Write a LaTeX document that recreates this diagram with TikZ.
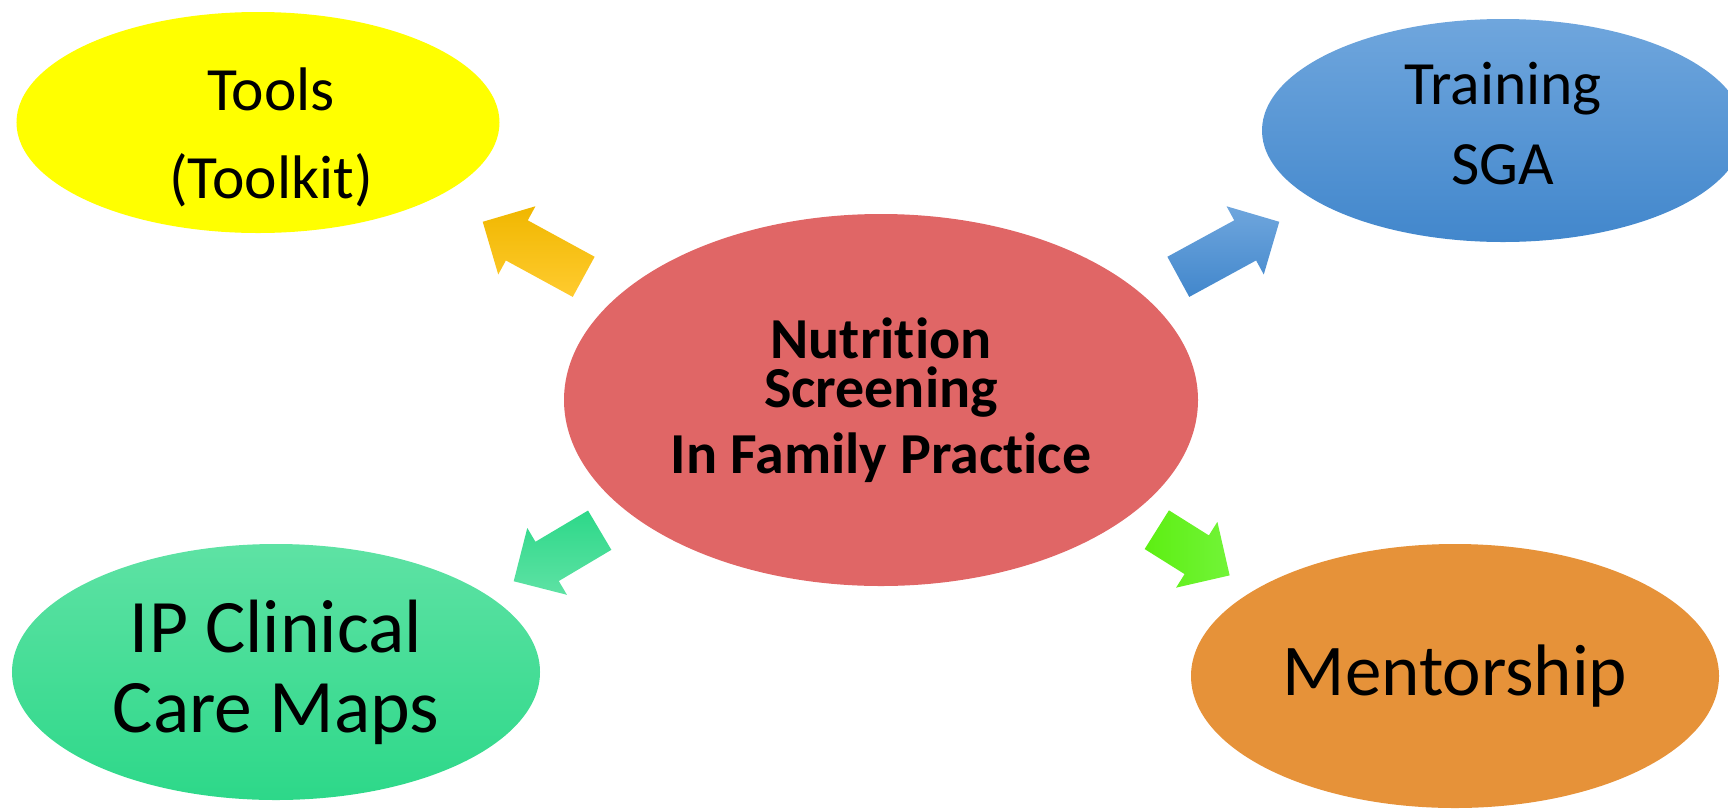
\documentclass[tikz,border=0pt]{standalone}
\usepackage{fontspec}
\setmainfont{Carlito}[Ligatures=NoCommon]
\usepackage{tikz}
\usetikzlibrary{shapes.geometric,shapes.arrows}
\definecolor{hubred}{HTML}{E06666}
\definecolor{toolyel}{HTML}{FFFF00}
\definecolor{trainhi}{HTML}{6FA6DD}
\definecolor{trainlo}{HTML}{4287CC}
\definecolor{mapshi}{HTML}{5EE2A4}
\definecolor{mapslo}{HTML}{2DD889}
\definecolor{mentor}{HTML}{E69239}
\definecolor{goldhi}{HTML}{FFCB2F}
\definecolor{goldlo}{HTML}{F0B700}
\definecolor{limehi}{HTML}{72F438}
\definecolor{limelo}{HTML}{5DEF12}
\tikzset{
  bubble/.style = {ellipse, inner sep=0pt, align=center},
  barrow/.style = {single arrow, inner xsep=0pt, inner ysep=4.5mm, minimum width=15.4mm,
                   single arrow head extend=3.2mm, anchor=tail},
}

\begin{document}
\begin{tikzpicture}[x=0.2mm, y=-0.2mm]
  \useasboundingbox (0,0) rectangle (1728,809);
  % hub and the four satellites
  \node[bubble, fill=hubred, minimum width=126.8mm, minimum height=74.4mm,
        font=\bfseries\fontsize{33}{28.1}\selectfont] (hub) at (881,400)
        {Nutrition\\Screening\\[7.7pt]In Family Practice};
  \node[bubble, fill=toolyel, minimum width=96.6mm, minimum height=44.2mm] (tools) at (258,122.5) {};
  \node[align=center, font=\fontsize{35}{50}\selectfont] (toolsTxt) at ([shift={(13,15)}]tools.center)
        {Tools\\(Toolkit)};
  \node[bubble, top color=trainhi, bottom color=trainlo, minimum width=96.4mm, minimum height=44.6mm]
        (training) at (1503,130.5) {};
  \node[align=center, font=\fontsize{35}{45.8}\selectfont] (trainingTxt) at ([shift={(0,-7)}]training.center)
        {Training\\SGA};
  \node[bubble, top color=mapshi, bottom color=mapslo, minimum width=105.6mm, minimum height=51.2mm,
        font=\fontsize{43}{45.5}\selectfont] (maps) at (276,672) {IP Clinical\\Care Maps};
  \node[bubble, fill=mentor, minimum width=105.6mm, minimum height=52.8mm,
        font=\fontsize{41.5}{50}\selectfont] (mentorship) at (1455,676) {Mentorship};
  % block arrows out of the hub
  \node[barrow, minimum height=23mm, rotate=151.4, top color=goldlo,
        bottom color=goldhi] (toTools) at ([shift={(-297,-123)}]hub.center) {};
  \node[barrow, minimum height=23mm, rotate=28.6, top color=trainhi,
        bottom color=trainlo] (toTraining) at ([shift={(297,-123)}]hub.center) {};
  \node[barrow, minimum height=20mm, rotate=210.7, top color=mapslo,
        bottom color=mapshi] (toMaps) at ([shift={(-281,130)}]hub.center) {};
  \node[barrow, minimum height=17.2mm, rotate=-32.1, left color=limelo,
        right color=limehi] (toMentor) at ([shift={(275.5,129.5)}]hub.center) {};
\end{tikzpicture}
\end{document}
